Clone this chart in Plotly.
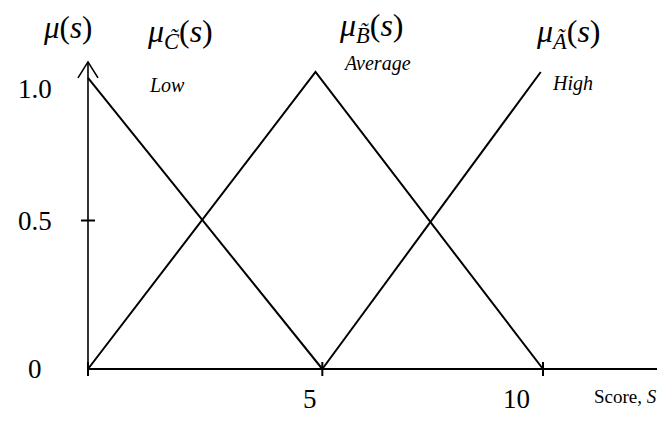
import plotly.graph_objects as go

# membership functions (score S vs mu(s))
low_x = [0, 5.15]
low_y = [0.98, 0]
avg_x = [0, 5.0, 10.0]
avg_y = [0, 1.0, 0]
high_x = [5.15, 9.95]
high_y = [0, 1.0]

# axis ticks / labels
x_tick_marks = [0, 5.15, 10]
x_tick_vals = [5, 10]
x_tick_text = ["5", "10"]
y_tick_vals = [0, 0.5, 1.0]
y_tick_text = ["0", "0.5", "1.0"]

# curve titles and their linguistic labels
curve_titles = ["<i>μ</i><sub><i>C̃</i></sub>(<i>s</i>)",
                "<i>μ</i><sub><i>B̃</i></sub>(<i>s</i>)",
                "<i>μ</i><sub><i>Ã</i></sub>(<i>s</i>)"]
title_x = [2.02, 6.24, 10.55]
title_y = [1.13, 1.15, 1.13]
terms = ["Low", "Average", "High"]
term_x = [1.74, 6.35, 10.64]
term_y = [0.955, 1.03, 0.96]

SERIF = '"Liberation Serif"'
line = dict(color="black", width=2)

fig = go.Figure()
for xs, ys in [(low_x, low_y), (avg_x, avg_y), (high_x, high_y)]:
    fig.add_trace(go.Scatter(x=xs, y=ys, mode="lines", line=line,
                             cliponaxis=False, showlegend=False, hoverinfo="skip"))

shapes = []
# horizontal axis
shapes.append(dict(type="line", xref="x", yref="y", x0=0, x1=12.7, y0=0, y1=0,
                   line=dict(color="black", width=2)))
# vertical axis with open arrow head
shapes.append(dict(type="line", xref="x", yref="y", x0=0, x1=0, y0=0, y1=1.034,
                   line=dict(color="black", width=1.6)))
shapes.append(dict(type="path", xref="x", yref="y",
                   path="M -0.22 0.98 L 0 1.034 L 0.22 0.98",
                   line=dict(color="black", width=1.6)))
# crossing tick marks
for xv in x_tick_marks:
    shapes.append(dict(type="line", xref="x", yref="y", ysizemode="pixel", yanchor=0,
                       x0=xv, x1=xv, y0=-7, y1=7, line=dict(color="black", width=2)))
shapes.append(dict(type="line", xref="x", yref="y", xsizemode="pixel", xanchor=0,
                   x0=-7, x1=7, y0=0.5, y1=0.5, line=dict(color="black", width=2)))

ann = []
for v, t in zip(y_tick_vals, y_tick_text):
    ann.append(dict(x=-1.16, y=v, xref="x", yref="y", text=t, showarrow=False,
                    yshift=-17 if v == 1.0 else 0,
                    font=dict(family=SERIF, size=27, color="black")))
for v, t, sh in zip(x_tick_vals, x_tick_text, [-6, -27]):
    ann.append(dict(x=v, y=-0.1, xref="x", yref="y", text=t, showarrow=False,
                    xshift=sh, font=dict(family=SERIF, size=27, color="black")))
ann.append(dict(x=-0.46, y=1.15, xref="x", yref="y", text="<i>μ</i>(<i>s</i>)",
                showarrow=False, font=dict(family=SERIF, size=31, color="black")))
for t, xv, yv in zip(curve_titles, title_x, title_y):
    ann.append(dict(x=xv, y=yv, xref="x", yref="y", text=t, showarrow=False,
                    font=dict(family=SERIF, size=32, color="black")))
for t, xv, yv in zip(terms, term_x, term_y):
    ann.append(dict(x=xv, y=yv, xref="x", yref="y", text="<i>" + t + "</i>",
                    showarrow=False, font=dict(family=SERIF, size=20, color="black")))
ann.append(dict(x=12.56, y=-0.094, xref="x", yref="y", text="Score, <i>S</i>",
                xanchor="right", showarrow=False,
                font=dict(family=SERIF, size=19, color="black")))

# page body has an 8px margin, so the figure is 8px smaller each way
fig.update_layout(
    width=657, height=413,
    margin=dict(l=0, r=0, t=0, b=0),
    paper_bgcolor="white", plot_bgcolor="white",
    xaxis=dict(range=[-1.758, 12.681], visible=False),
    yaxis=dict(range=[-0.1751, 1.2155], visible=False),
    shapes=shapes, annotations=ann,
)
fig.write_html("out.html")
